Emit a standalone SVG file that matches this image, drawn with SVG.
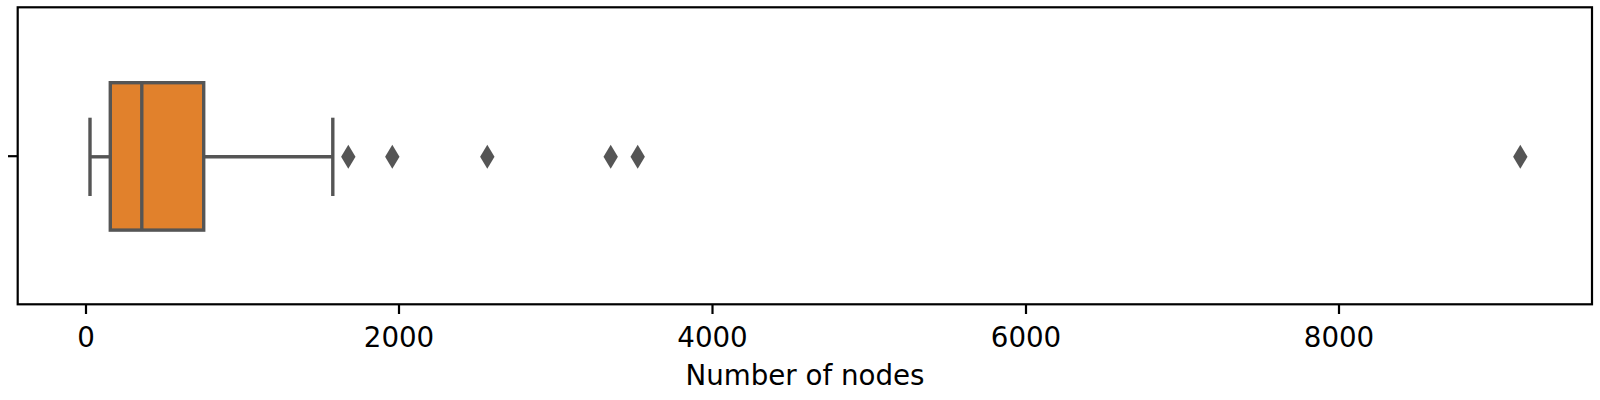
<svg xmlns="http://www.w3.org/2000/svg" width="1600" height="400" viewBox="0 0 1600 400">
<style>
.ax{stroke:#000;stroke-width:2.2;fill:none;stroke-linecap:butt}
.bx{stroke:#555555;stroke-width:3.4;fill:none}
.lbl{font-family:"DejaVu Sans",sans-serif;font-size:27.7px;fill:#000;text-anchor:middle}
.fl{fill:#555555}
</style>
<defs>
<path id="dm" d="M0,-12 L7.2,0 L0,12 L-7.2,0 Z"/>
</defs>
<rect width="1600" height="400" fill="#fff"/>
<g id="box">
<rect x="110.3" y="82.7" width="93.4" height="147.4" fill="#e1812c" stroke="#555555" stroke-width="3.4"/>
<line class="bx" x1="141.8" y1="82.7" x2="141.8" y2="230.1"/>
</g>
<g id="whiskers">
<line class="bx" x1="90" y1="156.8" x2="110.3" y2="156.8"/>
<line class="bx" x1="203.7" y1="156.8" x2="332.8" y2="156.8"/>
<line class="bx" x1="90" y1="117.7" x2="90" y2="196"/>
<line class="bx" x1="332.8" y1="117.7" x2="332.8" y2="196"/>
</g>
<g id="outliers" class="fl">
<use href="#dm" x="348.3" y="156.8"/>
<use href="#dm" x="392.3" y="156.8"/>
<use href="#dm" x="487.3" y="156.8"/>
<use href="#dm" x="610.7" y="156.8"/>
<use href="#dm" x="637.7" y="156.8"/>
<use href="#dm" x="1520.3" y="156.8"/>
</g>
<g id="axes">
<rect class="ax" x="17.7" y="7.3" width="1574.3" height="297"/>
<line class="ax" x1="8" y1="156.2" x2="17.7" y2="156.2"/>
<line class="ax" x1="86" y1="304.3" x2="86" y2="314"/>
<line class="ax" x1="399" y1="304.3" x2="399" y2="314"/>
<line class="ax" x1="712.5" y1="304.3" x2="712.5" y2="314"/>
<line class="ax" x1="1026" y1="304.3" x2="1026" y2="314"/>
<line class="ax" x1="1339" y1="304.3" x2="1339" y2="314"/>
<text class="lbl" x="86" y="346.7">0</text>
<text class="lbl" x="399" y="346.7">2000</text>
<text class="lbl" x="712.5" y="346.7">4000</text>
<text class="lbl" x="1026" y="346.7">6000</text>
<text class="lbl" x="1339" y="346.7">8000</text>
<text class="lbl" x="805" y="385">Number of nodes</text>
</g>
</svg>
